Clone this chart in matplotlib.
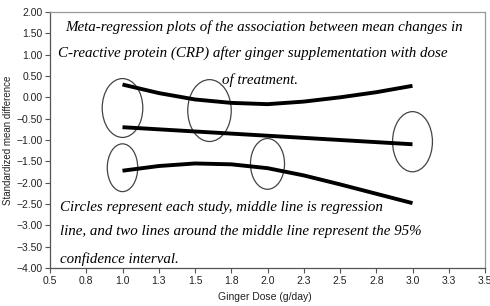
import numpy as np
import matplotlib
matplotlib.use("Agg")
import matplotlib.pyplot as plt
from matplotlib.patches import Ellipse

# ***********************
# DATA
# ***********************

# study points (circles)
study_dose = [1.0, 1.6, 1.0, 2.0, 3.0]
study_smd = [-0.25, -0.31, -1.65, -1.56, -1.04]

# regression line and 95% CI
dose = [1.0, 1.25, 1.5, 1.75, 2.0, 2.25, 2.5, 2.75, 3.0]
upper_ci = [0.30, 0.10, -0.05, -0.13, -0.16, -0.10, 0.0, 0.12, 0.27]
regression = [-0.70, -0.75, -0.80, -0.85, -0.90, -0.95, -1.00, -1.05, -1.10]
lower_ci = [-1.72, -1.61, -1.55, -1.57, -1.66, -1.83, -2.04, -2.26, -2.48]

x_ticks = [0.5, 0.75, 1.0, 1.25, 1.5, 1.75, 2.0, 2.25, 2.5, 2.75, 3.0, 3.25, 3.5]
x_tick_labels = ["0.5", "0.8", "1.0", "1.3", "1.5", "1.8", "2.0", "2.3",
                 "2.5", "2.8", "3.0", "3.3", "3.5"]
y_ticks = [2.0, 1.5, 1.0, 0.5, 0.0, -0.5, -1.0, -1.5, -2.0, -2.5, -3.0, -3.5, -4.0]
y_tick_labels = ["2.00", "1.50", "1.00", "0.50", "0.00", "\u22120.50", "\u22121.00",
                 "\u22121.50", "\u22122.00", "\u22122.50", "\u22123.00", "\u22123.50",
                 "\u22124.00"]

# ellipse sizes (data units)
circle_w = [0.28, 0.30, 0.21, 0.235, 0.275]
circle_h = [1.38, 1.45, 1.12, 1.19, 1.41]

# ***********************
# PLOT
# ***********************

fig = plt.figure(figsize=(4.9, 3.06), dpi=100)
ax = fig.add_axes([50/490, 1 - 268/306, 435/490, 256/306])

for x, y, w, h in zip(study_dose, study_smd, circle_w, circle_h):
    ax.add_patch(Ellipse((x, y), w, h, fill=False, edgecolor="#444444", linewidth=0.9))

for series in [upper_ci, regression, lower_ci]:
    ax.plot(dose, series, color="black", linewidth=2.8, solid_capstyle="butt")

ax.set_xlim(0.5, 3.5)
ax.set_ylim(-4.0, 2.0)
ax.set_xticks(x_ticks)
ax.set_xticklabels(x_tick_labels)
ax.set_yticks(y_ticks)
ax.set_yticklabels(y_tick_labels)

for lbl in ax.get_xticklabels() + ax.get_yticklabels():
    lbl.set_fontfamily("Liberation Sans")
    lbl.set_fontsize(7.5)
    lbl.set_color("#222222")

ax.tick_params(axis="both", direction="out", length=3.5, width=0.8, color="#555555", pad=2)
ax.spines["left"].set_color("#555555")
ax.spines["bottom"].set_color("#555555")
ax.spines["top"].set_color("#999999")
ax.spines["right"].set_color("#999999")
for s in ax.spines.values():
    s.set_linewidth(0.9)

fig.text(8/490, 1 - 140/306, "Standardized mean difference", rotation=90,
         ha="center", va="center", fontdict={"family": "Liberation Sans", "size": 7},
         color="#222222")
fig.text(265/490, 1 - 297/306, "Ginger Dose (g/day)", ha="center", va="center",
         fontdict={"family": "Liberation Sans", "size": 7.5}, color="#222222")

# annotation text (handwritten look in original)
note_font = {"family": "Liberation Serif", "style": "italic", "size": 10.8}
fig.text(65/490, 1 - 27/306,
         "Meta-regression plots of the association between mean changes in",
         ha="left", va="center", fontdict=note_font)
fig.text(58/490, 1 - 53/306,
         "C-reactive protein (CRP) after ginger supplementation with dose",
         ha="left", va="center", fontdict=note_font)
fig.text(222/490, 1 - 80/306, "of treatment.", ha="left", va="center", fontdict=note_font)
fig.text(60/490, 1 - 207/306,
         "Circles represent each study, middle line is regression",
         ha="left", va="center", fontdict=note_font)
fig.text(60/490, 1 - 232/306,
         "line, and two lines around the middle line represent the 95%",
         ha="left", va="center", fontdict=note_font)
fig.text(60/490, 1 - 259/306, "confidence interval.", ha="left", va="center",
         fontdict=note_font)

fig.savefig("out.png", dpi=100)
